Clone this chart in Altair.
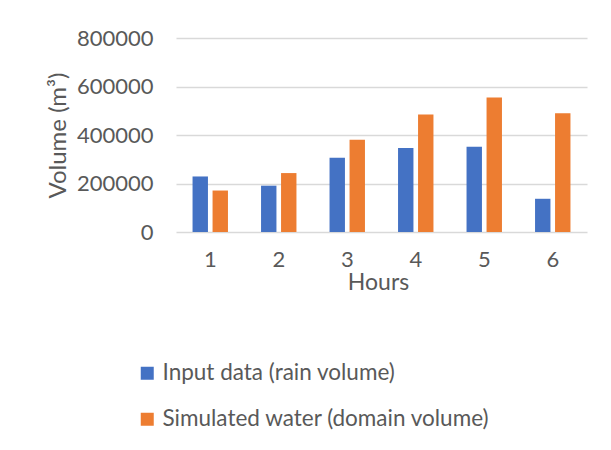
import altair as alt
import pandas as pd

hours = ["1", "2", "3", "4", "5", "6"]
series = ["Input data (rain volume)", "Simulated water (domain volume)"]
rain_volume = [229000, 191000, 306000, 346000, 352000, 137000]
domain_volume = [171000, 243000, 380000, 485000, 555000, 490000]
y_ticks = [0, 200000, 400000, 600000, 800000]
colors = ["#4472C4", "#ED7D31"]

rows = []
for h, r, d in zip(hours, rain_volume, domain_volume):
    rows.append({"Hour": h, "Series": series[0], "Volume": r})
    rows.append({"Hour": h, "Series": series[1], "Volume": d})
df = pd.DataFrame(rows)

FONT = "Lato"
GREY = "#595959"

chart = alt.Chart(df).mark_bar().encode(
    x=alt.X(
        "Hour:N",
        sort=hours,
        scale=alt.Scale(paddingInner=0.483, paddingOuter=0.2415),
        axis=alt.Axis(
            title="Hours",
            labelAngle=0,
            domain=False,
            ticks=False,
            labelFontSize=22,
            labelColor=GREY,
            labelFont=FONT,
            labelPadding=17,
            titleFontSize=23,
            titleFont=FONT,
            titleColor=GREY,
            titleFontWeight="normal",
            titleX=202,
            titleY=50,
            titleAlign="center",
            titleBaseline="middle",
        ),
    ),
    xOffset=alt.XOffset(
        "Series:N", sort=series, scale=alt.Scale(paddingInner=0.23, paddingOuter=0)
    ),
    y=alt.Y(
        "Volume:Q",
        scale=alt.Scale(domain=[0, 800000], nice=False),
        axis=alt.Axis(
            title="Volume (m³)",
            values=y_ticks,
            format="d",
            grid=True,
            gridColor="#D9D9D9",
            gridWidth=1.3,
            domain=False,
            ticks=False,
            labelPadding=23,
            labelFontSize=22,
            labelColor=GREY,
            labelFont=FONT,
            titleFontSize=24,
            titleFont=FONT,
            titleColor=GREY,
            titleFontWeight="normal",
            titleAngle=-90,
            titleX=-118,
            titleY=97,
            titleAlign="center",
            titleBaseline="middle",
        ),
    ),
    color=alt.Color(
        "Series:N",
        sort=series,
        scale=alt.Scale(domain=series, range=colors),
        legend=alt.Legend(
            title=None,
            orient="none",
            legendX=-40,
            legendY=324,
            direction="vertical",
            symbolType="square",
            symbolSize=169,
            symbolStrokeWidth=0,
            labelFontSize=22.5,
            labelFont=FONT,
            labelColor=GREY,
            labelOffset=4,
            labelLimit=0,
            rowPadding=23,
            padding=0,
        ),
    ),
).properties(
    width=411,
    height=194,
    autosize=alt.AutoSizeParams(type="none"),
    padding={"left": 168, "top": 30, "right": 10, "bottom": 200},
).configure_view(stroke=None)

chart.save("out.html", embed_options={"renderer": "svg", "actions": False})
